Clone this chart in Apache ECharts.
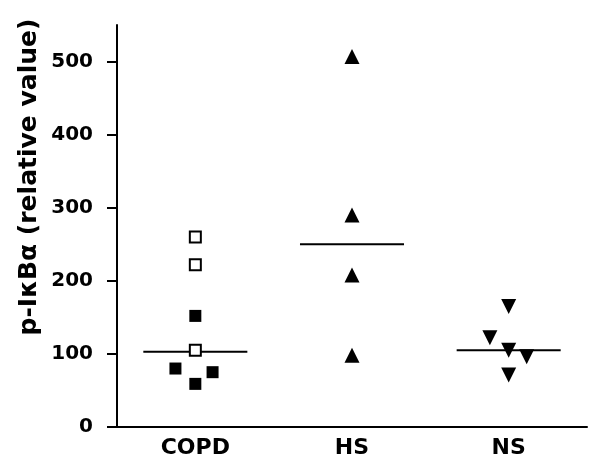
<!DOCTYPE html>
<html>
<head>
<meta charset="utf-8">
<style>html,body{margin:0;padding:0;background:#fff;}#chart{width:600px;height:472px;}</style>
<script src="https://cdn.jsdelivr.net/npm/echarts@6/dist/echarts.min.js"></script>
</head>
<body>
<div id="chart"></div>
<script>
// ---- data ----
var categories = ['COPD', 'HS', 'NS'];
var yTicks = [0, 100, 200, 300, 400, 500];
var yTitle = 'p-I\u03BAB\u03B1 (relative value)';

// COPD filled squares
var copdFilledValues = [152, 80, 75, 59];
var copdFilledJitter = [0, -0.127, 0.11, 0];
// COPD open squares
var copdOpenValues = [260, 222, 105];
var copdOpenJitter = [0, 0, 0];
// HS triangles
var hsValues = [507, 290, 208, 98];
var hsJitter = [0, 0, 0, 0];
// NS inverted triangles
var nsValues = [165, 122, 105, 96, 71];
var nsJitter = [0, -0.12, 0, 0.115, 0];
// median lines
var medians = [103, 250, 105];
var medianHalfWidth = 0.332;

function pts(catIndex, values, jitter) {
  return values.map(function (v, i) { return [catIndex + jitter[i], v]; });
}

var FONT = 'DejaVu Sans';
var medianSeries = medians.map(function (m, i) {
  return {
    type: 'line', xAxisIndex: 1, yAxisIndex: 0,
    data: [[i - medianHalfWidth, m], [i + medianHalfWidth, m]],
    symbol: 'none', lineStyle: { color: '#000', width: 2, opacity: 1 }, silent: true, z: 1
  };
});

var chart = echarts.init(document.getElementById('chart'), null, { renderer: 'canvas' });
chart.setOption({
  animation: false,
  backgroundColor: '#fff',
  grid: { left: 117, right: 13, top: 25, bottom: 45, containLabel: false },
  xAxis: [{
    type: 'category', data: categories, boundaryGap: true,
    axisLine: { onZero: false, lineStyle: { color: '#000', width: 2 } },
    axisTick: { alignWithLabel: true, length: 7, lineStyle: { color: '#000', width: 2 } },
    axisLabel: { color: '#000', fontFamily: FONT, fontWeight: 'bold', fontSize: 22, margin: 10 },
    splitLine: { show: false }
  }, {
    type: 'value', min: -0.5, max: 2.5, show: false, splitLine: { show: false }
  }],
  yAxis: [{
    type: 'value', min: 0, max: 550,
    axisLine: { show: true, onZero: false, lineStyle: { color: '#000', width: 2 } },
    axisTick: { show: true, length: 10, customValues: yTicks, lineStyle: { color: '#000', width: 2 } },
    axisLabel: { color: '#000', fontFamily: FONT, fontWeight: 'bold', fontSize: 20, margin: 24, customValues: yTicks },
    splitLine: { show: false }
  }],
  graphic: [{
    type: 'text', x: 29, y: 177, rotation: Math.PI / 2,
    style: { text: yTitle, fill: '#000', font: 'bold 25px "DejaVu Sans"', align: 'center', verticalAlign: 'middle' }
  }],
  series: medianSeries.concat([
    { type: 'scatter', xAxisIndex: 1, data: pts(0, copdFilledValues, copdFilledJitter), symbol: 'rect', symbolSize: 12,
      itemStyle: { color: '#000', opacity: 1 }, z: 3 },
    { type: 'scatter', xAxisIndex: 1, data: pts(0, copdOpenValues, copdOpenJitter), symbol: 'rect', symbolSize: 11,
      itemStyle: { color: '#fff', borderColor: '#000', borderWidth: 2, opacity: 1 }, z: 3 },
    { type: 'scatter', xAxisIndex: 1, data: pts(1, hsValues, hsJitter), symbol: 'triangle', symbolSize: 15,
      itemStyle: { color: '#000', opacity: 1 }, z: 3 },
    { type: 'scatter', xAxisIndex: 1, data: pts(2, nsValues, nsJitter), symbol: 'triangle', symbolSize: 15, symbolRotate: 180,
      itemStyle: { color: '#000', opacity: 1 }, z: 3 }
  ])
});
</script>
</body>
</html>
